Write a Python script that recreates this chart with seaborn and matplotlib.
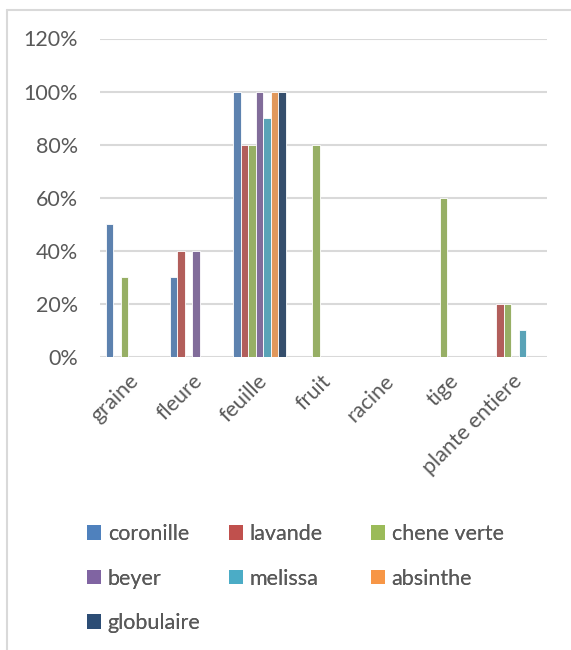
import numpy as np
import pandas as pd
import matplotlib
matplotlib.use("Agg")
import matplotlib.pyplot as plt
import matplotlib.transforms as mtransforms
from matplotlib.lines import Line2D
from matplotlib.patches import Patch
import seaborn as sns

# Plant parts and the share (%) of each plant using them
categories = ["graine", "fleure", "feuille", "fruit", "racine", "tige", "plante entiere"]
series = ["coronille", "lavande", "chene verte", "beyer", "melissa", "absinthe", "globulaire"]

coronille = [50, 30, 100, None, None, None, None]
lavande = [None, 40, 80, None, None, None, 20]
chene_verte = [30, None, 80, 80, None, 60, 20]
beyer = [None, 40, 100, None, None, None, None]
melissa = [None, None, 90, None, None, None, 10]
absinthe = [None, None, 100, None, None, None, None]
globulaire = [None, None, 100, None, None, None, None]

y_ticks = [0, 20, 40, 60, 80, 100, 120]
y_tick_labels = ["0%", "20%", "40%", "60%", "80%", "100%", "120%"]

colors = ["#4F81BD", "#C0504D", "#9BBB59", "#8064A2", "#4BACC6", "#F79646", "#2C4D75"]

values = [coronille, lavande, chene_verte, beyer, melissa, absinthe, globulaire]
rows = []
for name, vals in zip(series, values):
    for cat, v in zip(categories, vals):
        rows.append({"partie": cat, "plante": name,
                     "valeur": np.nan if v is None else v})
df = pd.DataFrame(rows)

sns.set_theme(style="white")
plt.rcParams["font.family"] = ["Lato", "DejaVu Sans"]

TEXT_SIZE = 15.5
TEXT_COLOR = "#595959"

W, H = 571, 650
fig = plt.figure(figsize=(W / 100, H / 100), dpi=100)
ax = fig.add_axes([100 / W, 1 - 357 / H, 447 / W, (357 - 38.5) / H])

sns.barplot(data=df, x="partie", y="valeur", hue="plante",
            order=categories, hue_order=series, palette=colors,
            width=0.82, edgecolor="white", linewidth=0.6,
            errorbar=None, ax=ax, zorder=3)
ax.legend_.remove()

ax.set_ylim(0, 120)
ax.set_xlim(-0.5, len(categories) - 0.5)
ax.set_yticks(y_ticks)
ax.set_yticklabels(y_tick_labels)
ax.yaxis.grid(True, color="#D9D9D9", linewidth=1.5, zorder=0)
ax.set_axisbelow(True)
for s in ax.spines.values():
    s.set_visible(False)
ax.set_xlabel("")
ax.set_ylabel("")
ax.tick_params(axis="y", length=0, pad=16, labelsize=TEXT_SIZE, labelcolor=TEXT_COLOR)
ax.tick_params(axis="x", length=0, pad=15, labelsize=TEXT_SIZE, labelcolor=TEXT_COLOR)
shift = mtransforms.ScaledTranslation(4 / 100, 0, fig.dpi_scale_trans)
for lab in ax.get_xticklabels():
    lab.set_rotation(45)
    lab.set_ha("right")
    lab.set_va("center")
    lab.set_rotation_mode("anchor")
    lab.set_transform(lab.get_transform() + shift)

# Legend laid out in three columns
columns = [[0, 3, 6], [1, 4], [2, 5]]
col_x = [87, 229, 371]
for idxs, x in zip(columns, col_x):
    handles = [Patch(facecolor=colors[i], edgecolor="none") for i in idxs]
    labels = [series[i] for i in idxs]
    leg = fig.legend(handles, labels, loc="upper left",
                     bbox_to_anchor=(x / W, 1 - 524 / H),
                     frameon=False, borderpad=0, borderaxespad=0,
                     fontsize=TEXT_SIZE, handlelength=0.66, handleheight=0.66,
                     handletextpad=0.3, labelspacing=1.14, labelcolor=TEXT_COLOR)
    fig.add_artist(leg)

# Chart frame
fig.add_artist(Line2D([7 / W, 7 / W], [0, 1 - 10 / H], transform=fig.transFigure,
                      color="#D9D9D9", linewidth=1.5))
fig.add_artist(Line2D([7 / W, 1], [1 - 10 / H, 1 - 10 / H], transform=fig.transFigure,
                      color="#D9D9D9", linewidth=1.5))

fig.savefig("out.png", dpi=100, facecolor="white")
